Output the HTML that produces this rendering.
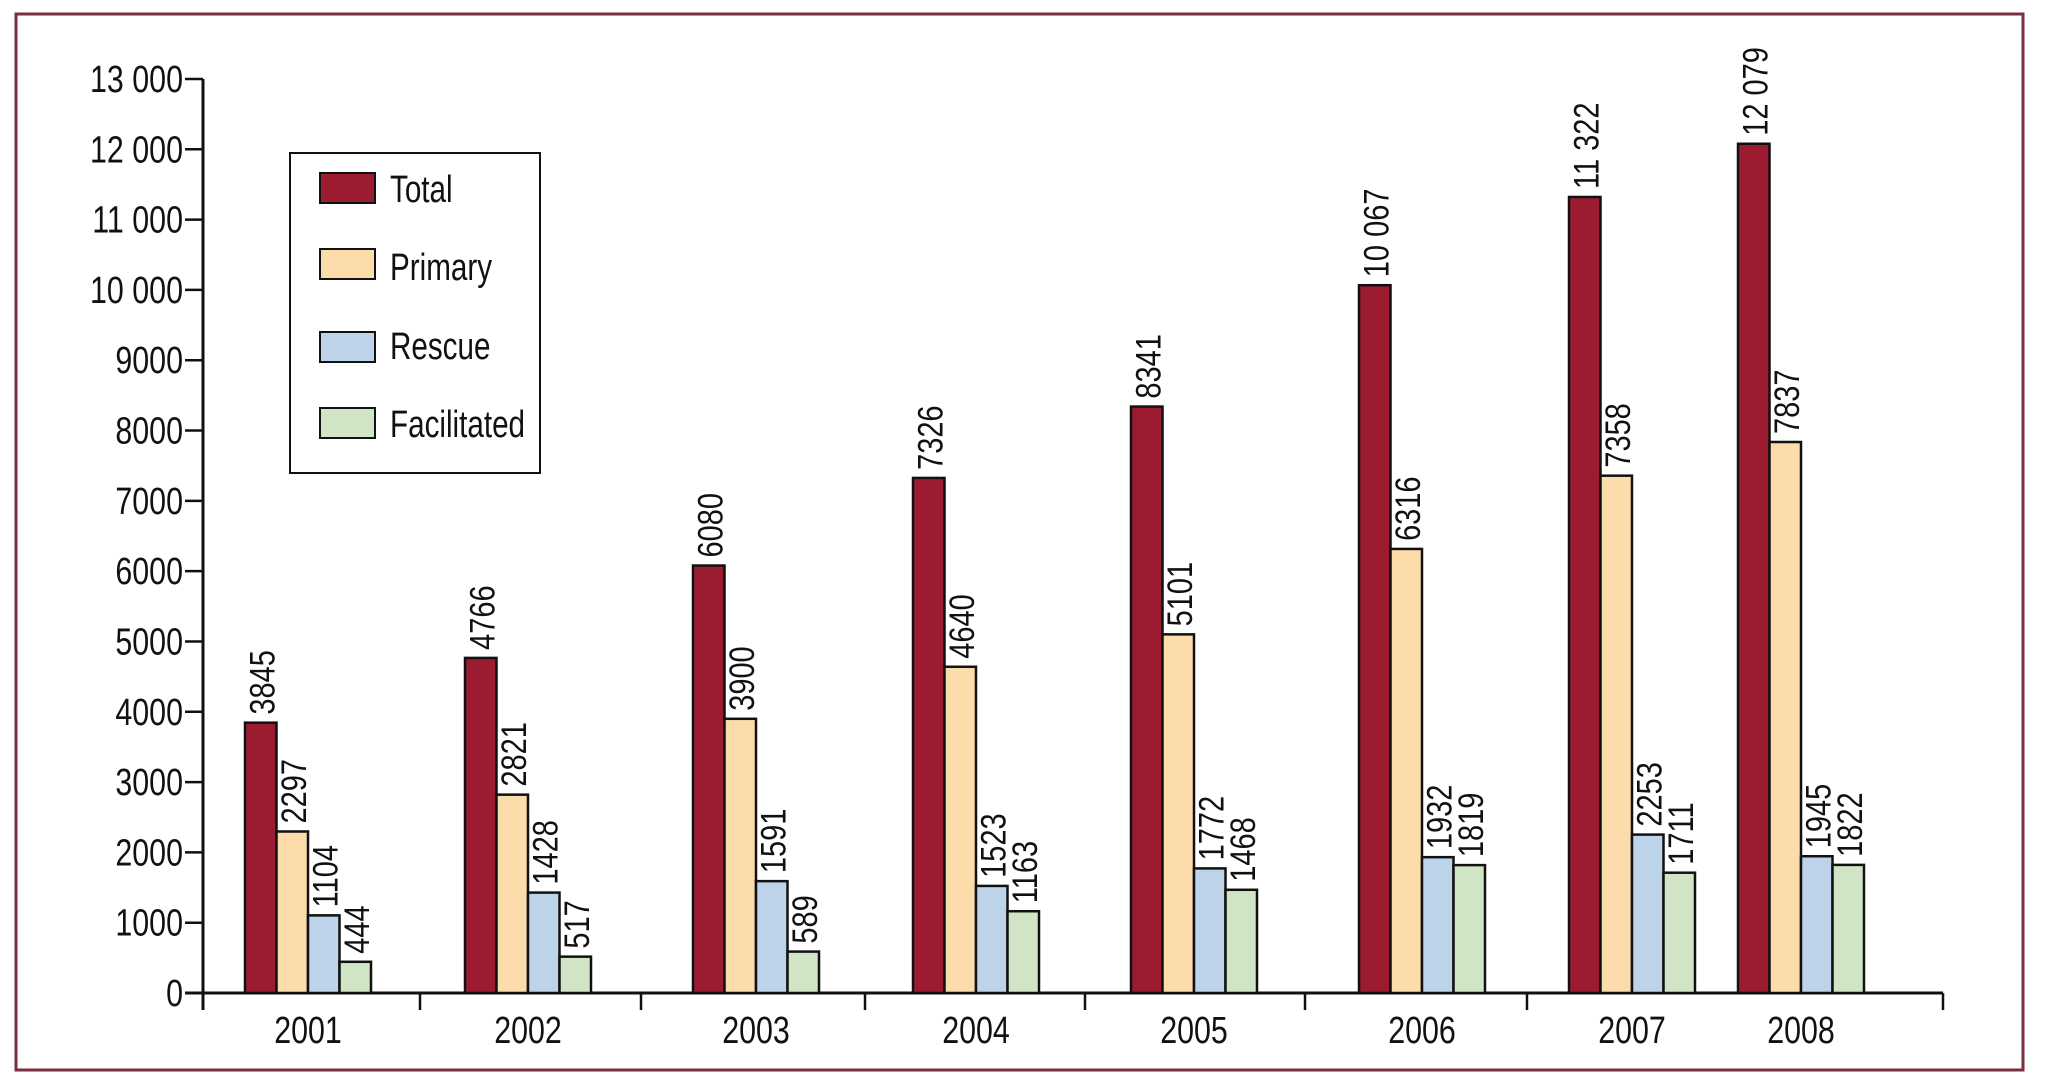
<!DOCTYPE html>
<html><head><meta charset="utf-8"><style>
html,body{margin:0;padding:0;background:#fff;}
svg{display:block;}
text{font-family:"Liberation Sans",sans-serif;fill:#111;}
.val{font-family:"Liberation Sans",sans-serif;font-size:29px;}
</style></head><body>
<svg id="chart" width="2045" height="1083" viewBox="0 0 2045 1083">
<rect x="16" y="14" width="2007" height="1056" fill="none" stroke="#7a2e3e" stroke-width="3"/>
<text x="18" y="1107" style="font-size:30px;font-weight:bold;fill:#8a1a2c">Figure 1. Changes in the number of percutaneous coronary interventions (PCI) for acute myocardial infarction (2001–2008)</text>
<g id="axes"></g>
<g id="bars"></g>
<g id="legend">
<rect x="290" y="153" width="250" height="320" fill="#fff" stroke="#111" stroke-width="2"/>
<g><rect x="320" y="173" width="55" height="30" fill="#9b1b30" stroke="#111" stroke-width="2"/><text transform="translate(390,202) scale(0.78,1)" font-size="38">Total</text></g>
<g><rect x="320" y="249" width="55" height="30" fill="#fbdcaa" stroke="#111" stroke-width="2"/><text transform="translate(390,280) scale(0.78,1)" font-size="38">Primary</text></g>
<g><rect x="320" y="332" width="55" height="30" fill="#bcd3ea" stroke="#111" stroke-width="2"/><text transform="translate(390,359) scale(0.78,1)" font-size="38">Rescue</text></g>
<g><rect x="320" y="408" width="55" height="30" fill="#d0e4c6" stroke="#111" stroke-width="2"/><text transform="translate(390,437) scale(0.78,1)" font-size="38">Facilitated</text></g>
</g>
</svg>
<script>
const years = ["2001","2002","2003","2004","2005","2006","2007","2008"];
const totalVals = [3845,4766,6080,7326,8341,10067,11322,12079];
const primaryVals = [2297,2821,3900,4640,5101,6316,7358,7837];
const rescueVals = [1104,1428,1591,1523,1772,1932,2253,1945];
const facilitatedVals = [444,517,589,1163,1468,1819,1711,1822];
const totalLabels = ["3845","4766","6080","7326","8341","10 067","11 322","12 079"];
const yTicks = [0,1000,2000,3000,4000,5000,6000,7000,8000,9000,10000,11000,12000,13000];
const yTickLabels = ["0","1000","2000","3000","4000","5000","6000","7000","8000","9000","10 000","11 000","12 000","13 000"];

const NS="http://www.w3.org/2000/svg";
const y0=993, pxPer=914/13000;
function yScale(v){return y0 - v*pxPer;}
const groupStarts=[245,465,693,913,1131,1359,1569,1738];
const barW=31.5;
function xScale(i,s){return groupStarts[i]+s*barW;}
function mk(tag,attrs,parent){const e=document.createElementNS(NS,tag);for(const k in attrs)e.setAttribute(k,attrs[k]);parent.appendChild(e);return e;}

const axes=document.getElementById('axes');
const yAxis=mk('line',{x1:203,y1:yScale(13000),x2:203,y2:1010,stroke:'#111','stroke-width':3},axes);


const xAxis=mk('line',{x1:185,y1:y0,x2:1943,y2:y0,stroke:'#111','stroke-width':3},axes);


yTicks.forEach((v,i)=>{
  const t=mk('line',{x1:185,y1:yScale(v),x2:203,y2:yScale(v),stroke:'#111','stroke-width':2.5},axes);
  
  
  const l=mk('text',{transform:'translate(183,'+(yScale(v)+13)+') scale(0.8,1)','text-anchor':'end','font-size':38},axes);
  l.textContent=yTickLabels[i];
  
  
});
[420,641,865,1085,1305,1527,1943].forEach(x=>{
  const t=mk('line',{x1:x,y1:y0,x2:x,y2:1010,stroke:'#111','stroke-width':2.5},axes);
  
  
});
years.forEach((yr,i)=>{
  const l=mk('text',{transform:'translate('+(groupStarts[i]+2*barW)+',1043) scale(0.8,1)','text-anchor':'middle','font-size':38},axes);
  l.textContent=yr;
  
  
});

const series=[
 {vals:totalVals,color:'#9b1b30',name:'total'},
 {vals:primaryVals,color:'#fbdcaa',name:'primary'},
 {vals:rescueVals,color:'#bcd3ea',name:'rescue'},
 {vals:facilitatedVals,color:'#d0e4c6',name:'facilitated'}];
const bars=document.getElementById('bars');
series.forEach((s,si)=>{
  s.vals.forEach((v,i)=>{
    const x=xScale(i,si), top=yScale(v);
    const r=mk('rect',{x:x,y:top,width:barW,height:y0-top,fill:s.color,stroke:'#111','stroke-width':2.5},bars);
    
    
    const lx=x+barW-2, ly=top-8;
    const t=mk('text',{class:'val',transform:'translate('+lx+','+ly+') rotate(-90) scale(1,1.2)'},bars);
    t.textContent= si===0 ? totalLabels[i] : String(v);
    
    
  });
});
</script>
</body></html>
